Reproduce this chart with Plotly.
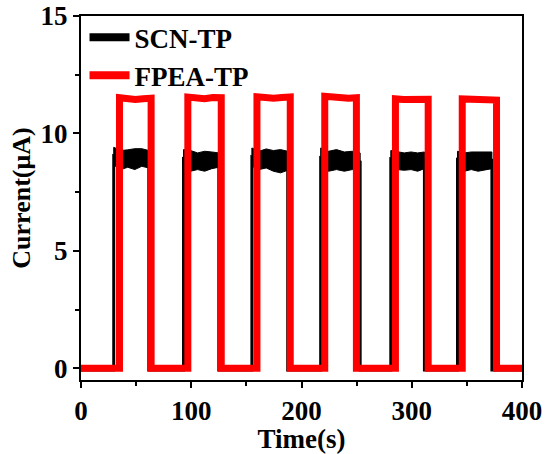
import numpy as np
import plotly.graph_objects as go

# ---- data ----
# FPEA-TP (red): light on / off times (s) and plateau current (uA)
fpea_on = [34.9, 96.9, 159.6, 221.1, 285.2, 345.8]
fpea_off = [63.6, 127.2, 189.8, 249.8, 314.9, 376.9]
fpea_plateau = [
    [11.52, 11.47, 11.44, 11.48, 11.50],
    [11.55, 11.50, 11.48, 11.53, 11.52],
    [11.56, 11.52, 11.50, 11.53, 11.55],
    [11.58, 11.53, 11.52, 11.50, 11.52],
    [11.47, 11.44, 11.42, 11.44, 11.45],
    [11.47, 11.44, 11.43, 11.44, 11.42],
]
fpea_dark = 0.0

# SCN-TP (black): on / off times and noisy plateau envelope (upper / lower)
scn_on = [29.7, 93.0, 155.0, 217.4, 281.0, 341.5]
scn_off = [61.5, 125.0, 187.5, 253.2, 311.5, 372.7]
scn_upper = [
    [9.41, 9.27, 9.30, 9.35, 9.35, 9.27],
    [9.31, 9.27, 9.17, 9.24, 9.21, 9.17],
    [9.38, 9.24, 9.34, 9.27, 9.31, 9.24],
    [9.38, 9.24, 9.31, 9.21, 9.24, 9.17],
    [9.27, 9.21, 9.17, 9.21, 9.17, 9.21],
    [9.24, 9.17, 9.21, 9.21, 9.24, 9.21],
]
scn_lower = [
    [8.65, 8.46, 8.56, 8.46, 8.60, 8.53],
    [8.53, 8.39, 8.46, 8.39, 8.50, 8.56],
    [8.60, 8.46, 8.53, 8.39, 8.32, 8.43],
    [8.53, 8.39, 8.46, 8.39, 8.46, 8.39],
    [8.56, 8.46, 8.43, 8.46, 8.39, 8.50],
    [8.53, 8.39, 8.46, 8.39, 8.46, 8.50],
]
scn_dark = -0.07

t_start, t_end = 0, 400
x_ticks = [0, 100, 200, 300, 400]
y_ticks = [0, 5, 10, 15]


def step_series(on, off, plateaus, dark):
    xs, ys = [t_start], [dark]
    for a, b, vals in zip(on, off, plateaus):
        px = np.linspace(a, b, len(vals))
        xs += [a] + list(px) + [b]
        ys += [dark] + list(vals) + [dark]
    xs.append(t_end)
    ys.append(dark)
    return xs, ys


scn_mid = [list((np.array(u) + np.array(l)) / 2) for u, l in zip(scn_upper, scn_lower)]
sx, sy = step_series(scn_on, scn_off, scn_mid, scn_dark)
fx, fy = step_series(fpea_on, fpea_off, fpea_plateau, fpea_dark)

# envelope polygons for the noisy black plateaus
bx, by = [], []
for a, b, u, l in zip(scn_on, scn_off, scn_upper, scn_lower):
    px = list(np.linspace(a, b, len(u)))
    bx += px + px[::-1] + [px[0], None]
    by += list(u) + list(l)[::-1] + [u[0], None]

FONT = "Liberation Serif"

fig = go.Figure()
fig.add_trace(go.Scatter(x=bx, y=by, mode="lines", fill="toself",
                         fillcolor="#000000", line=dict(color="#000000", width=1),
                         showlegend=False, hoverinfo="skip"))
fig.add_trace(go.Scatter(x=sx, y=sy, mode="lines", name="SCN-TP",
                         line=dict(color="#000000", width=3), showlegend=False))
fig.add_trace(go.Scatter(x=fx, y=fy, mode="lines", name="FPEA-TP",
                         line=dict(color="#FF0000", width=7), showlegend=False))
# legend entries
fig.add_trace(go.Scatter(x=[None], y=[None], mode="lines", name="SCN-TP",
                         line=dict(color="#000000", width=8)))
fig.add_trace(go.Scatter(x=[None], y=[None], mode="lines", name="FPEA-TP",
                         line=dict(color="#FF0000", width=8)))

axis_common = dict(
    showline=True, linecolor="#000000", linewidth=2, mirror=True,
    ticks="outside", ticklen=6, tickwidth=2, tickcolor="#000000",
    showgrid=False, zeroline=False, automargin=False,
    tickfont=dict(family=FONT, size=27, color="#000000", weight="bold"),
)

fig.update_layout(
    width=546, height=454,
    margin=dict(l=81, r=24, t=16, b=74, autoexpand=False),
    paper_bgcolor="#FFFFFF", plot_bgcolor="#FFFFFF",
    xaxis=dict(range=[t_start, t_end], tickvals=x_ticks,
               minor=dict(ticks="outside", ticklen=4, tickwidth=2, dtick=50, tickcolor="#000000"),
               title=dict(text="Time(s)", standoff=2,
                          font=dict(family=FONT, size=27, color="#000000", weight="bold")),
               **axis_common),
    yaxis=dict(range=[-0.5, 15], tickvals=y_ticks,
               minor=dict(ticks="outside", ticklen=4, tickwidth=2, dtick=2.5, tickcolor="#000000"),
               title=dict(text="Current(μA)", standoff=2,
                          font=dict(family=FONT, size=26, color="#000000", weight="bold")),
               **axis_common),
    legend=dict(x=0.008, y=1.008, xanchor="left", yanchor="top",
                bgcolor="rgba(0,0,0,0)", tracegroupgap=0, itemwidth=40,
                font=dict(family=FONT, size=27, color="#000000", weight="bold")),
)

fig.write_html("out.html")
